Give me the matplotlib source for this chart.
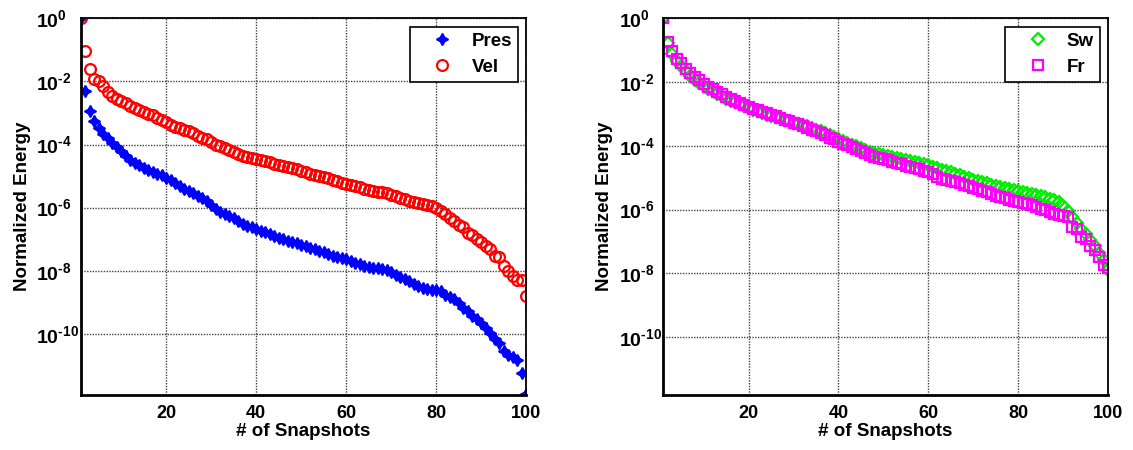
import numpy as np
import matplotlib
matplotlib.use("Agg")
import matplotlib.pyplot as plt

plt.rcParams['font.family'] = ['Liberation Sans', 'DejaVu Sans']
plt.rcParams['font.weight'] = 'bold'
plt.rcParams['mathtext.fontset'] = 'custom'
plt.rcParams['mathtext.rm'] = 'Liberation Sans:bold'
plt.rcParams['mathtext.bf'] = 'Liberation Sans:bold'
plt.rcParams['mathtext.it'] = 'Liberation Sans:bold'

# Snapshot index
snapshots = np.arange(1, 101)

# Normalized POD energy (log10) for each field
pres_log10 = [
    0.00, -2.30, -2.95, -3.26, -3.47, -3.68, -3.79, -3.95, -4.07, -4.21,
    -4.37, -4.49, -4.60, -4.66, -4.74, -4.81, -4.87, -4.92, -4.98, -5.05,
    -5.13, -5.21, -5.32, -5.40, -5.47, -5.55, -5.62, -5.70, -5.79, -5.92,
    -6.05, -6.13, -6.21, -6.27, -6.32, -6.42, -6.52, -6.58, -6.63, -6.68,
    -6.73, -6.78, -6.85, -6.91, -6.97, -7.01, -7.05, -7.09, -7.12, -7.17,
    -7.21, -7.27, -7.31, -7.36, -7.42, -7.47, -7.52, -7.56, -7.60, -7.64,
    -7.69, -7.74, -7.79, -7.84, -7.87, -7.90, -7.93, -7.96, -7.99, -8.05,
    -8.13, -8.20, -8.27, -8.34, -8.42, -8.48, -8.54, -8.58, -8.60, -8.61,
    -8.63, -8.76, -8.82, -8.89, -9.02, -9.17, -9.28, -9.43, -9.53, -9.65,
    -9.82, -9.98, -10.15, -10.30, -10.55, -10.67, -10.73, -10.83, -11.25, -11.92,
]
vel_log10 = [
    0.00, -1.05, -1.61, -1.93, -2.00, -2.16, -2.32, -2.45, -2.56, -2.63,
    -2.68, -2.77, -2.84, -2.92, -2.98, -3.02, -3.08, -3.16, -3.23, -3.30,
    -3.37, -3.44, -3.48, -3.53, -3.58, -3.65, -3.72, -3.78, -3.83, -3.92,
    -4.00, -4.05, -4.10, -4.18, -4.25, -4.31, -4.36, -4.40, -4.43, -4.46,
    -4.49, -4.52, -4.57, -4.61, -4.65, -4.68, -4.71, -4.75, -4.79, -4.84,
    -4.88, -4.93, -4.97, -5.00, -5.03, -5.07, -5.12, -5.17, -5.22, -5.26,
    -5.29, -5.32, -5.36, -5.40, -5.43, -5.46, -5.49, -5.52, -5.55, -5.60,
    -5.64, -5.69, -5.74, -5.78, -5.81, -5.84, -5.88, -5.91, -5.95, -6.02,
    -6.10, -6.21, -6.32, -6.42, -6.56, -6.63, -6.79, -6.86, -7.00, -7.10,
    -7.21, -7.32, -7.52, -7.58, -7.84, -8.00, -8.16, -8.28, -8.30, -8.81,
]
sw_log10 = [
    0.00, -0.78, -1.12, -1.35, -1.50, -1.66, -1.80, -1.92, -2.02, -2.12,
    -2.21, -2.29, -2.37, -2.45, -2.52, -2.58, -2.64, -2.70, -2.76, -2.82,
    -2.87, -2.92, -2.97, -3.02, -3.06, -3.10, -3.14, -3.18, -3.22, -3.27,
    -3.31, -3.35, -3.39, -3.44, -3.49, -3.54, -3.60, -3.66, -3.72, -3.78,
    -3.84, -3.90, -3.96, -4.02, -4.08, -4.14, -4.19, -4.23, -4.27, -4.30,
    -4.33, -4.36, -4.39, -4.42, -4.45, -4.48, -4.51, -4.54, -4.57, -4.60,
    -4.65, -4.70, -4.75, -4.79, -4.83, -4.87, -4.92, -4.97, -5.02, -5.06,
    -5.10, -5.14, -5.18, -5.22, -5.26, -5.29, -5.32, -5.35, -5.38, -5.41,
    -5.44, -5.47, -5.50, -5.54, -5.58, -5.62, -5.66, -5.70, -5.76, -5.90,
    -6.05, -6.25, -6.42, -6.60, -6.78, -6.95, -7.15, -7.35, -7.58, -7.90,
]
fr_log10 = [
    0.00, -0.73, -1.04, -1.28, -1.40, -1.58, -1.72, -1.85, -1.95, -2.05,
    -2.15, -2.23, -2.31, -2.39, -2.46, -2.53, -2.60, -2.66, -2.72, -2.79,
    -2.83, -2.88, -2.93, -2.98, -3.03, -3.08, -3.13, -3.18, -3.23, -3.28,
    -3.33, -3.38, -3.43, -3.49, -3.55, -3.61, -3.67, -3.74, -3.80, -3.87,
    -3.93, -3.99, -4.05, -4.11, -4.17, -4.23, -4.29, -4.34, -4.38, -4.42,
    -4.46, -4.50, -4.54, -4.58, -4.62, -4.66, -4.70, -4.74, -4.78, -4.83,
    -4.90, -4.97, -5.03, -5.07, -5.10, -5.14, -5.18, -5.22, -5.27, -5.32,
    -5.37, -5.42, -5.46, -5.51, -5.56, -5.61, -5.65, -5.69, -5.73, -5.76,
    -5.79, -5.82, -5.87, -5.92, -5.97, -6.03, -6.08, -6.13, -6.17, -6.21,
    -6.25, -6.55, -6.62, -6.85, -6.93, -7.15, -7.28, -7.48, -7.75, -7.85,
]

xtick_vals = [20, 40, 60, 80, 100]
ytick_exps = [0, -2, -4, -6, -8, -10]

FS = 13.5
fig = plt.figure(figsize=(11.33, 4.5), dpi=100)
ax1 = fig.add_axes([0.0711, 0.1222, 0.3932, 0.8371])
ax2 = fig.add_axes([0.5854, 0.1222, 0.3926, 0.8371])

star4 = (4, 1, 0)

ax1.plot(snapshots, 10.0 ** np.array(pres_log10), linestyle='none',
         marker=star4, ms=8.5, color='#0000FF', mec='#0000FF', mew=1.2,
         label='Pres')
ax1.plot(snapshots, 10.0 ** np.array(vel_log10), linestyle='none',
         marker='o', ms=7.8, mfc='none', mec='#FF0000', mew=1.6,
         label='Vel')

ax2.plot(snapshots, 10.0 ** np.array(sw_log10), linestyle='none',
         marker='D', ms=6.5, mfc='none', mec='#00EE00', mew=1.6,
         label='Sw')
ax2.plot(snapshots, 10.0 ** np.array(fr_log10), linestyle='none',
         marker='s', ms=7.5, mfc='none', mec='#FF00FF', mew=1.6,
         label='Fr')


def pow10_label(e):
    # hyphen-style exponent sign, as in the classic plot labels
    if e < 0:
        return r'$10^{\text{-%d}}$' % (-e)
    return r'$10^{%d}$' % e


for ax, ybot, ylab_x in ((ax1, 10 ** -11.94, -0.111),
                         (ax2, 10 ** -11.82, -0.113)):
    ax.set_yscale('log')
    ax.set_xlim(1, 100)
    ax.set_ylim(ybot, 1.0)
    ax.set_xticks(xtick_vals)
    ax.set_xticklabels([str(v) for v in xtick_vals], fontsize=13,
                       fontweight='bold')
    ax.set_yticks([10.0 ** e for e in ytick_exps])
    ax.set_yticklabels([pow10_label(e) for e in ytick_exps], fontsize=14,
                       ha='left')
    ax.yaxis.set_minor_locator(matplotlib.ticker.NullLocator())
    ax.tick_params(axis='x', which='major', direction='in', length=0, pad=7)
    ax.tick_params(axis='y', which='major', direction='in', length=0, pad=32)
    ax.grid(True, which='major', color='#222222', linestyle=(0, (1, 1)),
            linewidth=1.0, alpha=0.85)
    ax.set_axisbelow(True)
    for side in ('top', 'right'):
        ax.spines[side].set_linewidth(1.3)
    for side in ('left', 'bottom'):
        ax.spines[side].set_linewidth(2.0)
    ax.set_xlabel('# of Snapshots', fontsize=FS, fontweight='bold', labelpad=1)
    ax.set_ylabel('Normalized Energy', fontsize=FS, fontweight='bold')
    ax.yaxis.set_label_coords(ylab_x, 0.5)
    leg = ax.legend(loc='upper right', fontsize=FS, frameon=True, fancybox=False,
                    edgecolor='black', framealpha=1.0, handlelength=2.9,
                    handletextpad=0.1, labelspacing=0.5, borderpad=0.3,
                    borderaxespad=0.45)
    leg.get_frame().set_linewidth(1.2)
    for t in leg.get_texts():
        t.set_fontweight('bold')

fig.savefig('out.png', dpi=100)
